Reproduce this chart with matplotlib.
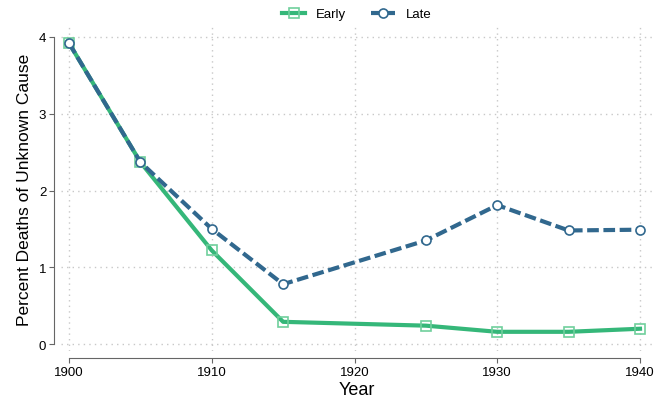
import matplotlib
matplotlib.use("Agg")
import matplotlib.pyplot as plt

years = [1900, 1905, 1910, 1915, 1925, 1930, 1935, 1940]
early = [3.92, 2.37, 1.22, 0.29, 0.24, 0.16, 0.16, 0.20]
late = [3.92, 2.37, 1.50, 0.78, 1.35, 1.81, 1.48, 1.49]

green = "#35b779"
blue = "#31688e"

plt.rcParams["font.family"] = ["Liberation Sans", "DejaVu Sans"]

fig = plt.figure(figsize=(6.67, 4.06), dpi=100)
ax = fig.add_axes([0.0915, 0.133, 0.886, 0.798])

ax.plot(years, early, color=green, lw=3, marker="s", ms=6.5,
        mfc="none", mec="#6fcf9c", mew=1.2, label="Early", zorder=3)
ax.plot(years, late, color=blue, lw=3, ls=(0, (2.8, 1.1)), marker="o", ms=6.5,
        mfc="white", mec=blue, mew=1.2, label="Late", zorder=4)

ax.set_xlim(1899.44, 1940.84)
ax.set_ylim(-0.09, 4.13)
ax.set_xticks([1900, 1910, 1920, 1930, 1940])
ax.set_yticks([0, 1, 2, 3, 4])

ax.grid(True, ls=(0, (1, 3)), color="#c8c8c8", lw=1)
ax.set_axisbelow(True)

for s in ["top", "right"]:
    ax.spines[s].set_visible(False)
for s in ["left", "bottom"]:
    ax.spines[s].set_position(("outward", 5))
    ax.spines[s].set_color("#666666")
ax.spines["left"].set_bounds(0, 4)
ax.spines["bottom"].set_bounds(1900, 1940)
ax.tick_params(colors="#666666", labelcolor="black", labelsize=9.5,
               length=3.6, pad=2)

ax.set_xlabel("Year", fontsize=13, labelpad=2)
ax.set_ylabel("Percent Deaths of Unknown Cause", fontsize=12.5, labelpad=5)

ax.legend(loc="lower center", bbox_to_anchor=(0.5, 1.0), ncol=2, frameon=False,
          fontsize=9.5, handlelength=1.8, handletextpad=0.8, columnspacing=1.9,
          borderaxespad=0.1)

fig.savefig("out.png", dpi=100)
